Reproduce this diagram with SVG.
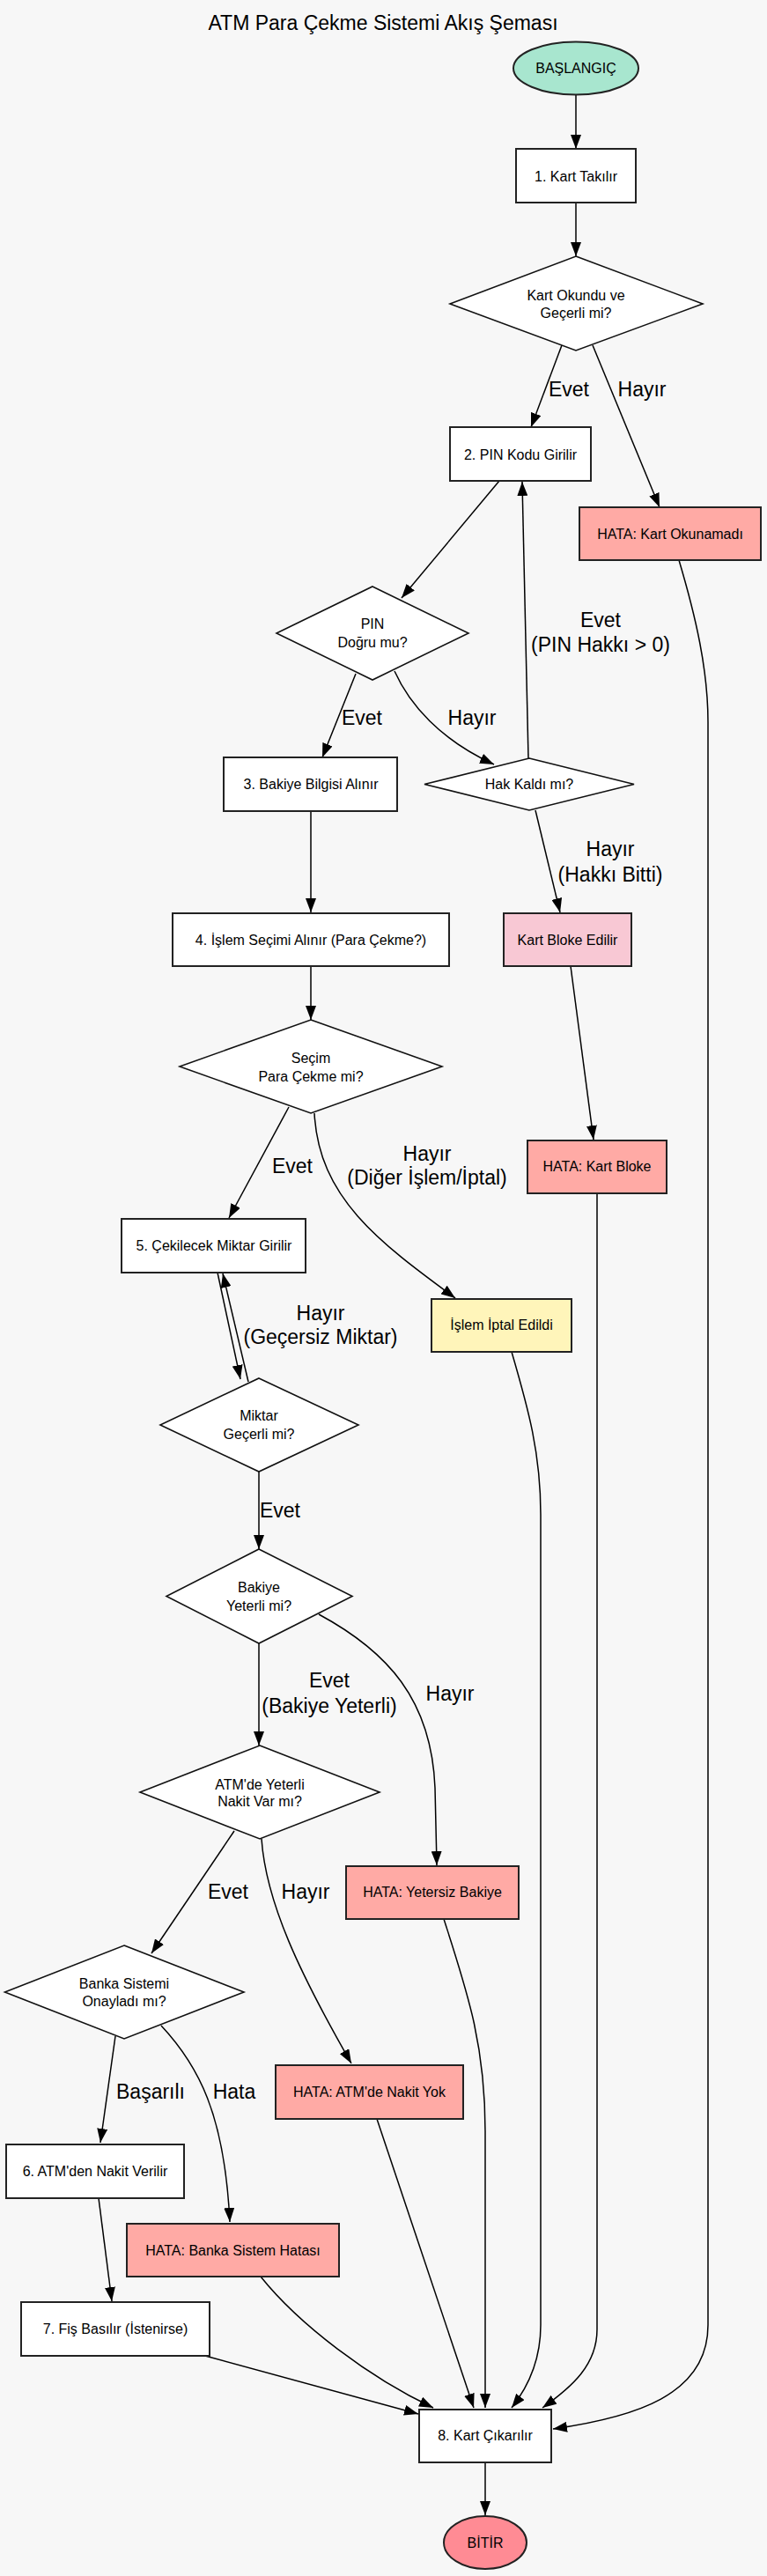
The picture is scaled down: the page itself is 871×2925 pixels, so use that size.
<svg xmlns="http://www.w3.org/2000/svg" width="871" height="2925" viewBox="0 0 871 2925">
<defs>
<marker id="arr" markerWidth="16" markerHeight="12" refX="16" refY="6" orient="auto" markerUnits="userSpaceOnUse">
<path d="M0,0 L16,6 L0,12 Z" fill="#000"/>
</marker>
<style>
.n{stroke:#222;stroke-width:2;fill:#fff}
.d{stroke:#111;stroke-width:1.6;fill:#fff}
.err{fill:#ffaaa5}
.t{font-family:"Liberation Sans",Arial,sans-serif;font-size:16px;fill:#000;text-anchor:middle;dominant-baseline:central}
.l{font-family:"Liberation Sans",Arial,sans-serif;font-size:23px;fill:#000;text-anchor:middle;dominant-baseline:central}
.e{fill:none;stroke:#000;stroke-width:1.5}
.a{marker-end:url(#arr)}
</style>
</defs>
<rect x="0" y="0" width="871" height="2925" fill="#f7f7f7"/>
<text class="l" x="435" y="26">ATM Para Çekme Sistemi Akış Şeması</text>

<g id="connectors">
<path class="e a" d="M654,107 L654,169"/>
<path class="e a" d="M654,230 L654,291"/>
<path class="e a" d="M638,392 L603,485"/>
<path class="e a" d="M673,392 L749,576"/>
<path class="e a" d="M567,546 L456,679"/>
<path class="e a" d="M404,765 L366,860"/>
<path class="e a" d="M448,762 C465,800 500,840 561,868"/>
<path class="e a" d="M600,861 L593,547"/>
<path class="e a" d="M608,920 L636,1036"/>
<path class="e a" d="M353,921 L353,1036"/>
<path class="e a" d="M648,1097 L674,1294"/>
<path class="e a" d="M353,1097 L353,1158"/>
<path class="e a" d="M328,1257 L260,1383"/>
<path class="e a" d="M357,1264 C362,1360 430,1410 517,1474"/>
<path class="e a" d="M247,1445 L273,1566"/>
<path class="e a" d="M282,1569 L253,1446"/>
<path class="e a" d="M294,1671 L294,1759"/>
<path class="e a" d="M294,1866 L294,1982"/>
<path class="e a" d="M362,1833 C440,1875 490,1930 494,2030 L496,2118"/>
<path class="e a" d="M266,2079 L172,2218"/>
<path class="e a" d="M297,2088 C302,2160 340,2240 399,2343"/>
<path class="e a" d="M131,2312 L114,2433"/>
<path class="e a" d="M183,2300 C225,2345 255,2400 261,2523"/>
<path class="e a" d="M112,2496 L127,2613"/>
<path class="e a" d="M233,2675 L475,2741"/>
<path class="e a" d="M296,2585 C340,2640 420,2700 492,2734"/>
<path class="e a" d="M428,2406 L538,2734"/>
<path class="e a" d="M504,2179 C530,2260 551,2320 551,2420 L551,2734"/>
<path class="e a" d="M581,1535 C600,1600 614,1650 614,1720 L614,2640 C614,2680 600,2710 581,2734"/>
<path class="e a" d="M678,1355 L678,2645 C678,2685 650,2710 616,2734"/>
<path class="e a" d="M771,636 C790,700 804,760 804,820 L804,2640 C804,2720 720,2745 628,2758"/>
<path class="e a" d="M551,2796 L551,2856"/>
<text class="l" x="646" y="442">Evet</text>
<text class="l" x="729" y="442">Hayır</text>
<text class="l" x="682" y="704">Evet</text>
<text class="l" x="682" y="732">(PIN Hakkı &gt; 0)</text>
<text class="l" x="411" y="815">Evet</text>
<text class="l" x="536" y="815">Hayır</text>
<text class="l" x="693" y="964">Hayır</text>
<text class="l" x="693" y="993">(Hakkı Bitti)</text>
<text class="l" x="332" y="1324">Evet</text>
<text class="l" x="485" y="1310">Hayır</text>
<text class="l" x="485" y="1337">(Diğer İşlem/İptal)</text>
<text class="l" x="364" y="1491">Hayır</text>
<text class="l" x="364" y="1518">(Geçersiz Miktar)</text>
<text class="l" x="318" y="1715">Evet</text>
<text class="l" x="374" y="1908">Evet</text>
<text class="l" x="374" y="1937">(Bakiye Yeterli)</text>
<text class="l" x="511" y="1923">Hayır</text>
<text class="l" x="259" y="2148">Evet</text>
<text class="l" x="347" y="2148">Hayır</text>
<text class="l" x="171" y="2375">Başarılı</text>
<text class="l" x="266" y="2375">Hata</text>
</g>

<g id="start"><ellipse class="n" cx="654" cy="77.5" rx="71" ry="30" fill="#a8e6cf" style="fill:#a8e6cf"/><text class="t" x="654" y="77.5">BAŞLANGIÇ</text></g>
<g id="step1"><rect class="n" x="586" y="169" width="136" height="61"/><text class="t" x="654" y="200">1. Kart Takılır</text></g>
<g id="dec_card"><polygon class="d" points="654,291 798,345 654,398 511,345"/><text class="t" x="654" y="335">Kart Okundu ve</text><text class="t" x="654" y="355">Geçerli mi?</text></g>
<g id="step2"><rect class="n" x="511" y="485" width="160" height="61"/><text class="t" x="591" y="516">2. PIN Kodu Girilir</text></g>
<g id="err_card"><rect class="n err" x="658" y="576" width="206" height="60"/><text class="t" x="761" y="606">HATA: Kart Okunamadı</text></g>
<g id="dec_pin"><polygon class="d" points="423,666 532,719 423,772 314,719"/><text class="t" x="423" y="708">PIN</text><text class="t" x="423" y="729">Doğru mu?</text></g>
<g id="step3"><rect class="n" x="254" y="860" width="197" height="61"/><text class="t" x="353" y="890">3. Bakiye Bilgisi Alınır</text></g>
<g id="dec_hak"><polygon class="d" points="601,861 720,890.5 601,920 482,890.5"/><text class="t" x="601" y="890">Hak Kaldı mı?</text></g>
<g id="block"><rect class="n" x="572" y="1037" width="145" height="60" style="fill:#f8c8d4"/><text class="t" x="644.5" y="1067">Kart Bloke Edilir</text></g>
<g id="step4"><rect class="n" x="196" y="1037" width="314" height="60"/><text class="t" x="353" y="1067">4. İşlem Seçimi Alınır (Para Çekme?)</text></g>
<g id="dec_sec"><polygon class="d" points="353,1158 502,1211 353,1264 204,1211"/><text class="t" x="353" y="1201">Seçim</text><text class="t" x="353" y="1222">Para Çekme mi?</text></g>
<g id="err_block"><rect class="n err" x="599" y="1295" width="158" height="60"/><text class="t" x="678" y="1324">HATA: Kart Bloke</text></g>
<g id="step5"><rect class="n" x="138" y="1384" width="209" height="61"/><text class="t" x="243" y="1414">5. Çekilecek Miktar Girilir</text></g>
<g id="cancel"><rect class="n" x="490" y="1475" width="159" height="60" style="fill:#fff5ba"/><text class="t" x="569.5" y="1504">İşlem İptal Edildi</text></g>
<g id="dec_amt"><polygon class="d" points="294,1565 407,1618 294,1671 182,1618"/><text class="t" x="294" y="1607">Miktar</text><text class="t" x="294" y="1628">Geçerli mi?</text></g>
<g id="dec_bal"><polygon class="d" points="294,1759 400,1812.5 294,1866 189,1812.5"/><text class="t" x="294" y="1802">Bakiye</text><text class="t" x="294" y="1823">Yeterli mi?</text></g>
<g id="dec_atm"><polygon class="d" points="295,1982 431,2035 295,2088 159,2035"/><text class="t" x="295" y="2026">ATM'de Yeterli</text><text class="t" x="295" y="2045">Nakit Var mı?</text></g>
<g id="err_bal"><rect class="n err" x="393" y="2119" width="196" height="60"/><text class="t" x="491" y="2148">HATA: Yetersiz Bakiye</text></g>
<g id="dec_bank"><polygon class="d" points="141,2209 277,2262 141,2315 5.5,2262"/><text class="t" x="141" y="2252">Banka Sistemi</text><text class="t" x="141" y="2272">Onayladı mı?</text></g>
<g id="err_cash"><rect class="n err" x="313" y="2345" width="213" height="61"/><text class="t" x="419.5" y="2375">HATA: ATM'de Nakit Yok</text></g>
<g id="step6"><rect class="n" x="7" y="2435" width="202" height="61"/><text class="t" x="108" y="2465">6. ATM'den Nakit Verilir</text></g>
<g id="err_bank"><rect class="n err" x="144" y="2525" width="241" height="60"/><text class="t" x="264.5" y="2555">HATA: Banka Sistem Hatası</text></g>
<g id="step7"><rect class="n" x="24" y="2614" width="214" height="61"/><text class="t" x="131" y="2644">7. Fiş Basılır (İstenirse)</text></g>
<g id="step8"><rect class="n" x="476" y="2736" width="150" height="60"/><text class="t" x="551" y="2765">8. Kart Çıkarılır</text></g>
<g id="end"><ellipse class="n" cx="551" cy="2887" rx="47" ry="30" style="fill:#ff8b94"/><text class="t" x="551" y="2887">BİTİR</text></g>
</svg>
